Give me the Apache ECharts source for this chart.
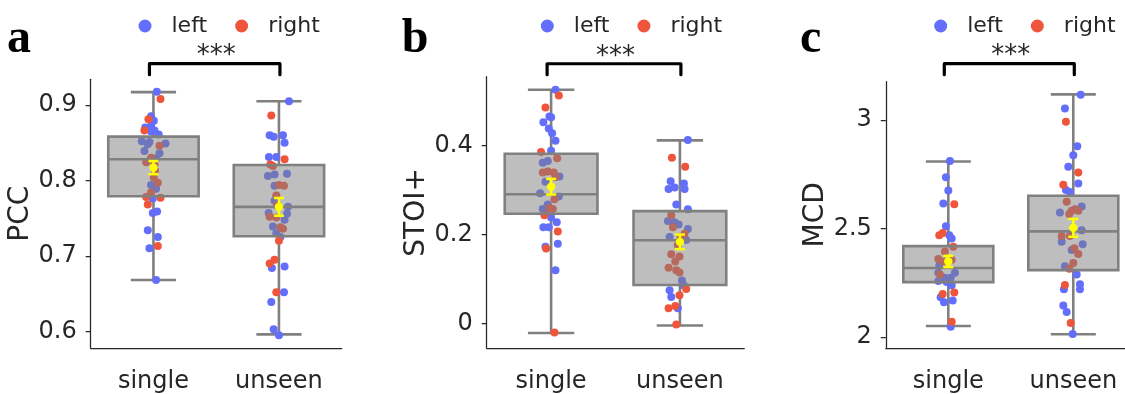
<!DOCTYPE html>
<html>
<head>
<meta charset="utf-8">
<script src="https://cdn.jsdelivr.net/npm/echarts@6/dist/echarts.min.js"></script>
<style>
  html, body { margin: 0; padding: 0; overflow: hidden; background: #fff; }
  #main { width: 1140px; height: 394px; }
</style>
</head>
<body>
<div id="main"></div>
<script>
// groups on the x axis and the two hemispheres (hue)
const categories = ['single', 'unseen']
const sides = ['left', 'right']

// points: [jitter, value]
const pccSingleLeft = [[0.027, 0.9175], [-0.019, 0.885], [0.003, 0.879], [-0.019, 0.872], [-0.066, 0.870], [0.008, 0.866], [-0.019, 0.865], [0.042, 0.861], [-0.093, 0.852], [-0.032, 0.851], [-0.045, 0.848], [0.096, 0.849], [-0.072, 0.839], [0.048, 0.836], [0.021, 0.829], [-0.019, 0.794], [0.021, 0.789], [-0.005, 0.776], [0.029, 0.759], [-0.005, 0.757], [-0.045, 0.734], [0.035, 0.725], [-0.032, 0.710], [0.021, 0.668]]
const pccSingleRight = [[0.056, 0.908], [-0.040, 0.881], [-0.072, 0.866], [0.048, 0.846], [-0.019, 0.830], [-0.058, 0.824], [0.008, 0.821], [0.013, 0.813], [0.003, 0.804], [0.035, 0.797], [-0.019, 0.784], [-0.058, 0.778], [0.056, 0.777], [-0.045, 0.768], [0.035, 0.713]]
const pccUnseenLeft = [[0.080, 0.905], [-0.074, 0.860], [-0.042, 0.858], [0.032, 0.860], [0.045, 0.850], [-0.080, 0.831], [-0.021, 0.831], [-0.088, 0.806], [-0.035, 0.808], [0.064, 0.809], [-0.035, 0.793], [-0.035, 0.773], [0.072, 0.765], [-0.082, 0.757], [0.045, 0.748], [0.064, 0.756], [-0.048, 0.739], [-0.021, 0.730], [0.011, 0.725], [-0.056, 0.684], [0.045, 0.686], [0.040, 0.652], [-0.061, 0.639], [-0.042, 0.603], [0.000, 0.595]]
const pccUnseenRight = [[-0.061, 0.886], [0.045, 0.828], [-0.069, 0.821], [-0.048, 0.819], [0.000, 0.794], [0.040, 0.793], [-0.021, 0.780], [-0.016, 0.767], [-0.074, 0.752], [-0.021, 0.751], [0.011, 0.738], [0.032, 0.736], [0.000, 0.720], [-0.074, 0.690], [-0.035, 0.695], [-0.021, 0.652]]

const stoiSingleLeft = [[0.034, 0.526], [-0.013, 0.466], [-0.060, 0.453], [0.000, 0.464], [-0.018, 0.439], [0.008, 0.428], [0.034, 0.411], [0.000, 0.389], [-0.065, 0.362], [-0.026, 0.366], [0.065, 0.331], [-0.044, 0.319], [-0.085, 0.293], [0.060, 0.286], [-0.026, 0.268], [-0.065, 0.258], [-0.039, 0.253], [0.000, 0.239], [0.044, 0.228], [-0.060, 0.217], [-0.018, 0.217], [0.052, 0.180], [-0.044, 0.173], [0.034, 0.120]]
const stoiSingleRight = [[0.060, 0.513], [-0.044, 0.486], [-0.078, 0.386], [0.047, 0.372], [-0.065, 0.340], [-0.026, 0.342], [0.021, 0.340], [0.034, 0.330], [0.026, 0.280], [-0.013, 0.260], [0.013, 0.258], [-0.052, 0.244], [0.052, 0.207], [-0.039, 0.169], [0.026, -0.020]]
const stoiUnseenLeft = [[0.062, 0.413], [-0.072, 0.320], [-0.088, 0.303], [-0.041, 0.306], [0.031, 0.315], [0.036, 0.303], [-0.028, 0.268], [0.062, 0.257], [-0.093, 0.231], [-0.041, 0.228], [-0.010, 0.223], [0.062, 0.213], [-0.080, 0.195], [0.049, 0.188], [0.016, 0.097], [0.031, 0.086], [-0.080, 0.075], [-0.067, 0.060], [-0.016, 0.035]]
const stoiUnseenRight = [[-0.062, 0.373], [0.041, 0.353], [-0.067, 0.244], [-0.054, 0.217], [0.036, 0.202], [0.005, 0.195], [-0.016, 0.177], [-0.067, 0.156], [-0.003, 0.151], [-0.036, 0.140], [-0.088, 0.126], [-0.028, 0.120], [-0.003, 0.115], [0.049, 0.078], [-0.003, 0.064], [-0.088, 0.035], [-0.036, 0.040], [-0.028, -0.002]]

const mcdSingleLeft = [[0.013, 2.812], [-0.019, 2.737], [0.000, 2.676], [-0.040, 2.616], [-0.019, 2.511], [0.008, 2.470], [0.027, 2.455], [-0.072, 2.330], [0.053, 2.297], [-0.027, 2.274], [0.019, 2.274], [-0.080, 2.297], [-0.080, 2.259], [0.027, 2.239], [-0.013, 2.254], [-0.035, 2.161], [0.035, 2.169], [-0.061, 2.184], [0.019, 2.048]]
const mcdSingleRight = [[0.048, 2.613], [-0.072, 2.470], [-0.045, 2.480], [0.040, 2.417], [-0.027, 2.395], [-0.080, 2.360], [-0.040, 2.349], [0.027, 2.357], [-0.067, 2.289], [-0.045, 2.199], [0.048, 2.206], [0.027, 2.071]]
const mcdUnseenLeft = [[0.059, 3.118], [-0.067, 3.054], [0.032, 2.880], [0.000, 2.839], [-0.040, 2.786], [0.040, 2.708], [-0.059, 2.678], [-0.027, 2.669], [-0.107, 2.575], [0.067, 2.602], [0.067, 2.493], [-0.093, 2.440], [0.075, 2.428], [-0.013, 2.402], [-0.067, 2.327], [0.027, 2.289], [0.053, 2.244], [0.053, 2.221], [-0.075, 2.221], [-0.080, 2.146], [-0.053, 2.116], [-0.005, 2.015]]
const mcdUnseenRight = [[-0.059, 2.993], [0.040, 2.759], [-0.080, 2.703], [-0.053, 2.624], [-0.013, 2.583], [0.013, 2.590], [0.040, 2.583], [-0.032, 2.568], [-0.093, 2.467], [-0.027, 2.467], [0.008, 2.410], [0.040, 2.383], [0.000, 2.342], [-0.032, 2.316], [-0.067, 2.241], [-0.021, 2.066]]

// box stats per group: [min, Q1, median, Q3, max]
const pccBox = [[0.668, 0.779, 0.828, 0.858, 0.917], [0.596, 0.726, 0.765, 0.8205, 0.905]]
const stoiBox = [[-0.021, 0.247, 0.291, 0.382, 0.526], [-0.004, 0.087, 0.1875, 0.253, 0.412]]
const mcdBox = [[2.052, 2.254, 2.319, 2.42, 2.81], [2.0135, 2.309, 2.488, 2.652, 3.119]]

// mean and standard error per group
const pccMean = [0.817, 0.765]
const pccSem = [0.0087, 0.0118]
const stoiMean = [0.308, 0.184]
const stoiSem = [0.0175, 0.0164]
const mcdMean = [2.349, 2.504]
const mcdSem = [0.026, 0.041]

// tick labels and significance bracket level
const pccTicks = [0.6, 0.7, 0.8, 0.9]
const stoiTicks = [0, 0.2, 0.4]
const mcdTicks = [2, 2.5, 3]
const pccSig = 0.9547
const stoiSig = 0.5843
const mcdSig = 3.2607

const panels = [
  {
    label: 'a', name: 'PCC', min: 0.578, max: 0.934, ticks: pccTicks,
    box: pccBox, mean: pccMean, sem: pccSem, sig: pccSig,
    pts: { left: [pccSingleLeft, pccUnseenLeft], right: [pccSingleRight, pccUnseenRight] },
    grid: { left: 90.7, top: 79.3, width: 251, height: 271.4 },
    labelX: 7, legendX: 138.5
  },
  {
    label: 'b', name: 'STOI+', min: -0.0546, max: 0.5552, ticks: stoiTicks,
    box: stoiBox, mean: stoiMean, sem: stoiSem, sig: stoiSig,
    pts: { left: [stoiSingleLeft, stoiUnseenLeft], right: [stoiSingleRight, stoiUnseenRight] },
    grid: { left: 486.7, top: 76.7, width: 257.6, height: 279 },
    labelX: 401.7, legendX: 540.8
  },
  {
    label: 'c', name: 'MCD', min: 1.9503, max: 3.1776, ticks: mcdTicks,
    box: mcdBox, mean: mcdMean, sem: mcdSem, sig: mcdSig,
    pts: { left: [mcdSingleLeft, mcdUnseenLeft], right: [mcdSingleRight, mcdUnseenRight] },
    grid: { left: 885.8, top: 81.7, width: 250, height: 271.6 },
    labelX: 800, legendX: 934.2
  }
]

const colors = { left: '#636EFA', right: '#EF553B' }
const textColor = '#262626'
const font = 'DejaVu Sans'
const boxEdge = '#808080'
const boxFill = 'rgba(125, 125, 125, 0.5)'
const boxWidth = 0.72
const capWidth = 0.36

function renderWhisker(params, api) {
  const i = api.value(0)
  const lo = api.coord([i, api.value(1)])
  const q1 = api.coord([i, api.value(2)])
  const q3 = api.coord([i, api.value(4)])
  const hi = api.coord([i, api.value(5)])
  const cap = api.size([1, 0])[0] * capWidth / 2
  const style = { stroke: boxEdge, lineWidth: 2.6 }
  return {
    type: 'group',
    children: [
      { type: 'line', shape: { x1: lo[0], y1: lo[1], x2: q1[0], y2: q1[1] }, style },
      { type: 'line', shape: { x1: q3[0], y1: q3[1], x2: hi[0], y2: hi[1] }, style },
      { type: 'line', shape: { x1: lo[0] - cap, y1: lo[1], x2: lo[0] + cap, y2: lo[1] }, style },
      { type: 'line', shape: { x1: hi[0] - cap, y1: hi[1], x2: hi[0] + cap, y2: hi[1] }, style }
    ]
  }
}

function renderBox(params, api) {
  const i = api.value(0)
  const half = api.size([1, 0])[0] * boxWidth / 2
  const q1 = api.coord([i, api.value(2)])
  const med = api.coord([i, api.value(3)])
  const q3 = api.coord([i, api.value(4)])
  return {
    type: 'group',
    children: [
      {
        type: 'rect',
        shape: { x: q3[0] - half, y: q3[1], width: half * 2, height: q1[1] - q3[1] },
        style: { fill: boxFill, stroke: boxEdge, lineWidth: 2.6 }
      },
      {
        type: 'line',
        shape: { x1: med[0] - half, y1: med[1], x2: med[0] + half, y2: med[1] },
        style: { stroke: boxEdge, lineWidth: 2.6 }
      }
    ]
  }
}

function renderMean(params, api) {
  const i = api.value(0)
  const m = api.value(1)
  const s = api.value(2)
  const c = api.coord([i, m])
  const top = api.coord([i, m + s])
  const bot = api.coord([i, m - s])
  const style = { stroke: '#FFFF00', lineWidth: 2.5 }
  return {
    type: 'group',
    children: [
      { type: 'line', shape: { x1: c[0], y1: top[1], x2: c[0], y2: bot[1] }, style },
      { type: 'line', shape: { x1: c[0] - 5, y1: top[1], x2: c[0] + 5, y2: top[1] }, style },
      { type: 'line', shape: { x1: c[0] - 5, y1: bot[1], x2: c[0] + 5, y2: bot[1] }, style },
      { type: 'circle', shape: { cx: c[0], cy: c[1], r: 4.2 }, style: { fill: '#FFFF00' } }
    ]
  }
}

function renderBracket(params, api) {
  const p0 = api.coord([api.value(0), api.value(2)])
  const p1 = api.coord([api.value(1), api.value(2)])
  return {
    type: 'group',
    children: [
      {
        type: 'polyline',
        shape: { points: [[p0[0] - 4, p0[1] + 11], [p0[0] - 4, p0[1]], [p1[0] + 1, p1[1]], [p1[0] + 1, p1[1] + 11]] },
        style: { stroke: '#000', fill: null, lineWidth: 3.2, lineJoin: 'round', lineCap: 'round' }
      },
      {
        type: 'text',
        x: (p0[0] + p1[0]) / 2,
        y: p0[1] - 7,
        style: { text: '***', font: '26px "DejaVu Sans"', fill: textColor, align: 'center', verticalAlign: 'middle' }
      }
    ]
  }
}

const grids = []
const xAxes = []
const yAxes = []
const legends = []
const graphics = []
const series = []

panels.forEach((p, k) => {
  grids.push(Object.assign({ containLabel: false }, p.grid))

  xAxes.push({
    type: 'category',
    gridIndex: k,
    data: categories,
    axisLine: { onZero: false, lineStyle: { color: textColor, width: 1.25 } },
    axisTick: { alignWithLabel: true, length: 5, lineStyle: { color: textColor, width: 1.25 } },
    axisLabel: { fontSize: 24, fontFamily: font, color: textColor, margin: 22 },
    splitLine: { show: false }
  })

  yAxes.push({
    type: 'value',
    gridIndex: k,
    min: p.min,
    max: p.max,
    name: p.name,
    nameLocation: 'middle',
    nameGap: 55,
    nameTextStyle: { fontSize: 28, fontFamily: font, color: textColor },
    axisLine: { show: true, onZero: false, lineStyle: { color: textColor, width: 1.25 } },
    axisTick: { show: true, length: 5, customValues: p.ticks, lineStyle: { color: textColor, width: 1.25 } },
    axisLabel: { fontSize: 24, fontFamily: font, color: textColor, margin: 14, customValues: p.ticks },
    splitLine: { show: false }
  })

  legends.push({
    left: p.legendX,
    top: 15,
    padding: 0,
    data: sides,
    icon: 'circle',
    itemWidth: 13,
    itemHeight: 13,
    itemGap: 28,
    selectedMode: false,
    textStyle: { fontSize: 22, fontFamily: font, color: textColor, padding: [0, 0, 0, 15] }
  })

  graphics.push({
    type: 'text',
    x: p.labelX,
    y: 40,
    style: { text: p.label, font: 'bold 48px "Liberation Serif"', fill: '#000', verticalAlign: 'middle' }
  })

  series.push({
    type: 'custom',
    xAxisIndex: k,
    yAxisIndex: k,
    z: 1,
    silent: true,
    clip: false,
    renderItem: renderWhisker,
    encode: { x: 0, y: [1, 2, 3, 4, 5] },
    data: p.box.map((b, i) => [i].concat(b))
  })

  sides.forEach(side => {
    const data = []
    p.pts[side].forEach((group, g) => {
      group.forEach(d => data.push([g + d[0], d[1]]))
    })
    series.push({
      type: 'scatter',
      name: side,
      xAxisIndex: k + 3,
      yAxisIndex: k,
      z: 2,
      symbolSize: 8,
      silent: true,
      itemStyle: { color: colors[side], opacity: 1 },
      data: data
    })
  })

  series.push({
    type: 'custom',
    xAxisIndex: k,
    yAxisIndex: k,
    z: 3,
    silent: true,
    clip: false,
    renderItem: renderBox,
    encode: { x: 0, y: [1, 2, 3, 4, 5] },
    data: p.box.map((b, i) => [i].concat(b))
  })

  series.push({
    type: 'custom',
    xAxisIndex: k,
    yAxisIndex: k,
    z: 4,
    silent: true,
    clip: false,
    renderItem: renderMean,
    encode: { x: 0, y: [1, 2] },
    data: p.mean.map((m, i) => [i, m, p.sem[i]])
  })

  series.push({
    type: 'custom',
    xAxisIndex: k,
    yAxisIndex: k,
    z: 4,
    silent: true,
    clip: false,
    renderItem: renderBracket,
    encode: { x: [0, 1], y: 2 },
    data: [[0, 1, p.sig]]
  })
})

// hidden value axes so the jittered points sit around the category centres
panels.forEach((p, k) => {
  xAxes.push({ type: 'value', gridIndex: k, min: -0.5, max: 1.5, show: false })
})

var chart = echarts.init(document.getElementById('main'))
chart.setOption({
  animation: false,
  backgroundColor: '#fff',
  textStyle: { fontFamily: font },
  grid: grids,
  xAxis: xAxes,
  yAxis: yAxes,
  legend: legends,
  graphic: graphics,
  series: series
})
</script>
</body>
</html>
